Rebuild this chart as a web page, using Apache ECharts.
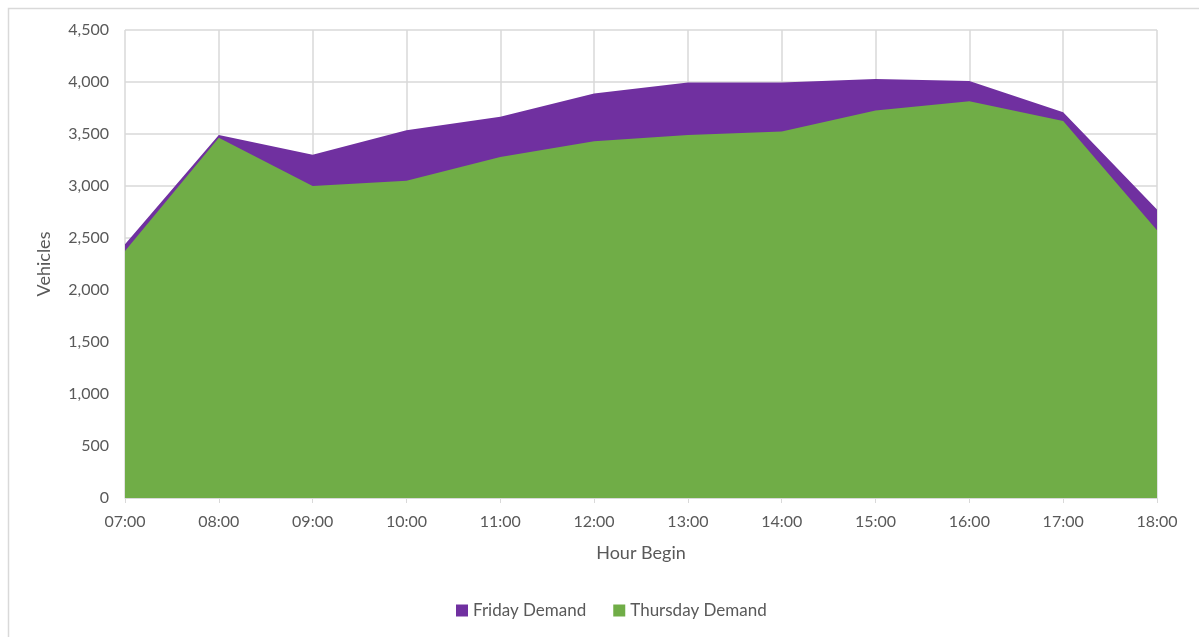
<!DOCTYPE html>
<html>
<head>
<meta charset="utf-8">
<script src="https://cdn.jsdelivr.net/npm/echarts@6/dist/echarts.min.js"></script>
<style>
  html, body { margin: 0; padding: 0; background: #fff; }
  #chart { width: 1199px; height: 637px; }
</style>
</head>
<body>
<div id="chart"></div>
<script>
// hour categories
const hours = ['07:00', '08:00', '09:00', '10:00', '11:00', '12:00', '13:00', '14:00', '15:00', '16:00', '17:00', '18:00'];
// Friday demand (drawn behind)
const fridayDemand = [2440, 3490, 3300, 3535, 3665, 3890, 3995, 3995, 4030, 4010, 3710, 2775];
// Thursday demand (drawn in front)
const thursdayDemand = [2375, 3465, 3000, 3050, 3280, 3430, 3490, 3525, 3725, 3815, 3625, 2575];

const textColor = '#595959';
const fontFamily = 'Lato, "Open Sans", sans-serif';

let chart = echarts.init(document.getElementById('chart'));

let option = {
  animation: false,
  textStyle: { fontFamily: fontFamily },
  // outer chart frame
  graphic: [{
    type: 'rect',
    left: 6,
    top: 6,
    shape: { width: 1240, height: 700 },
    style: { fill: 'none', stroke: '#d9d9d9', lineWidth: 1.5 },
    silent: true,
    z: -10
  }],
  legend: {
    bottom: 13,
    left: 451,
    itemWidth: 12,
    itemHeight: 12,
    itemGap: 27,
    icon: 'rect',
    selectedMode: false,
    textStyle: { color: textColor, fontSize: 17, fontFamily: fontFamily },
    data: ['Friday Demand', 'Thursday Demand']
  },
  grid: {
    left: 125,
    right: 42,
    top: 30,
    bottom: 139
  },
  xAxis: {
    type: 'category',
    boundaryGap: false,
    data: hours,
    name: 'Hour Begin',
    nameLocation: 'middle',
    nameGap: 46,
    nameTextStyle: { color: textColor, fontSize: 18 },
    axisLine: { show: true, lineStyle: { color: '#d9d9d9', width: 1 } },
    axisTick: { show: true, alignWithLabel: true, length: 5, lineStyle: { color: '#d9d9d9' } },
    axisLabel: { color: textColor, fontSize: 16, margin: 16 },
    splitLine: { show: true, lineStyle: { color: '#d9d9d9', width: 1.5 } }
  },
  yAxis: {
    type: 'value',
    min: 0,
    max: 4500,
    interval: 500,
    name: 'Vehicles',
    nameLocation: 'middle',
    nameGap: 72,
    nameTextStyle: { color: textColor, fontSize: 18 },
    axisLine: { show: false },
    axisTick: { show: false },
    axisLabel: {
      color: textColor,
      fontSize: 16,
      margin: 16,
      formatter: v => v.toLocaleString('en-US')
    },
    splitLine: { show: true, lineStyle: { color: '#d9d9d9', width: 1.5 } }
  },
  series: [
    {
      name: 'Friday Demand',
      type: 'line',
      data: fridayDemand,
      color: '#7030a0',
      symbol: 'none',
      lineStyle: { width: 0 },
      areaStyle: { color: '#7030a0', opacity: 1 },
      z: 2
    },
    {
      name: 'Thursday Demand',
      type: 'line',
      data: thursdayDemand,
      color: '#70ad47',
      symbol: 'none',
      lineStyle: { width: 0 },
      areaStyle: { color: '#70ad47', opacity: 1 },
      z: 3
    }
  ]
};

chart.setOption(option);
</script>
</body>
</html>
